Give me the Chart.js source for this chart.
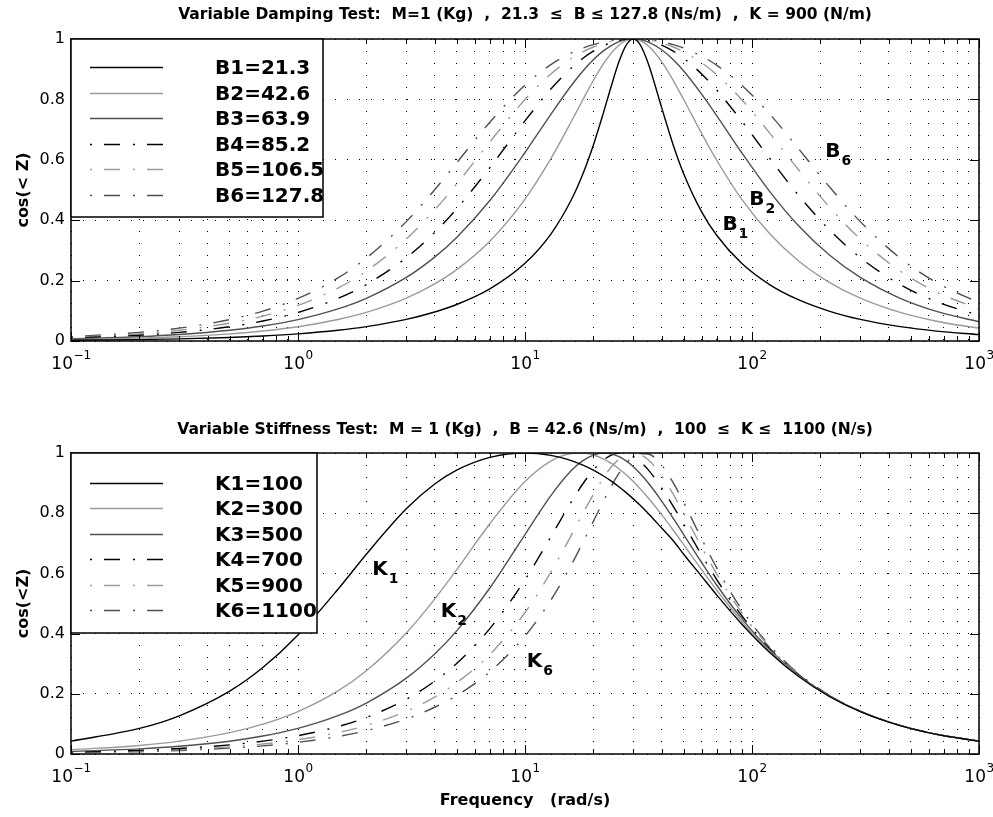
<!DOCTYPE html>
<html>
<head>
<meta charset="utf-8">
<script src="https://cdn.jsdelivr.net/npm/chart.js@4.4.0/dist/chart.umd.min.js"></script>
<style>
  html, body { margin: 0; padding: 0; background: #fff; }
  #wrap { position: relative; width: 993px; height: 817px; }
  canvas { position: absolute; left: 0; }
  #top { top: 0; }
  #bot { top: 400px; }
</style>
</head>
<body>
<div id="wrap">
  <canvas id="top" width="993" height="400"></canvas>
  <canvas id="bot" width="993" height="417"></canvas>
</div>
<script>
const freq = [0.1, 0.2, 0.3, 0.5, 0.7, 1, 1.5, 2, 3, 4, 5, 7, 10, 13, 16, 18, 20, 22, 24, 26, 28,
              30, 32, 35, 40, 45, 50, 60, 70, 90, 120, 160, 220, 300, 450, 650, 1000];

// top plot: variable damping
const dampLabels = ['B1=21.3', 'B2=42.6', 'B3=63.9', 'B4=85.2', 'B5=106.5', 'B6=127.8'];
const b1 = [0.0024, 0.0047, 0.0071, 0.0118, 0.0166, 0.0237, 0.0356, 0.0475, 0.0715, 0.0960, 0.1208, 0.1726, 0.2573, 0.3542, 0.4678, 0.5541, 0.6485, 0.7478, 0.8446, 0.9270, 0.9816,
            1, 0.9839, 0.9166, 0.7727, 0.6485, 0.5541, 0.4278, 0.3493, 0.2573, 0.1860, 0.1367, 0.0982, 0.0715, 0.0475, 0.0328, 0.0213];
const b2 = [0.0047, 0.0095, 0.0142, 0.0237, 0.0331, 0.0473, 0.0710, 0.0947, 0.1420, 0.1893, 0.2365, 0.3306, 0.4700, 0.6039, 0.7269, 0.7996, 0.8625, 0.9140, 0.9533, 0.9801, 0.9953,
            1, 0.9959, 0.9770, 0.9250, 0.8625, 0.7996, 0.6875, 0.5977, 0.4700, 0.3541, 0.2660, 0.1936, 0.1420, 0.0947, 0.0655, 0.0426];
const b3 = [0.0071, 0.0142, 0.0213, 0.0355, 0.0496, 0.0709, 0.1062, 0.1412, 0.2104, 0.2777, 0.3430, 0.4652, 0.6241, 0.7507, 0.8461, 0.8942, 0.9313, 0.9589, 0.9784, 0.9910, 0.9979,
            1, 0.9982, 0.9896, 0.9645, 0.9313, 0.8942, 0.8176, 0.7454, 0.6241, 0.4939, 0.3824, 0.2838, 0.2104, 0.1412, 0.0980, 0.0638];
const b4 = [0.0095, 0.0189, 0.0284, 0.0473, 0.0662, 0.0944, 0.1410, 0.1869, 0.2758, 0.3597, 0.4378, 0.5738, 0.7290, 0.8346, 0.9042, 0.9362, 0.9596, 0.9763, 0.9877, 0.9949, 0.9988,
            1, 0.9990, 0.9941, 0.9796, 0.9596, 0.9362, 0.8842, 0.8305, 0.7290, 0.6037, 0.4831, 0.3671, 0.2758, 0.1869, 0.1302, 0.0850];
const b5 = [0.0118, 0.0237, 0.0355, 0.0591, 0.0826, 0.1177, 0.1752, 0.2313, 0.3376, 0.4341, 0.5199, 0.6589, 0.7996, 0.8843, 0.9354, 0.9577, 0.9735, 0.9846, 0.9921, 0.9967, 0.9992,
            1, 0.9993, 0.9962, 0.9868, 0.9735, 0.9577, 0.9212, 0.8812, 0.7996, 0.6875, 0.5678, 0.4424, 0.3376, 0.2313, 0.1620, 0.1060];
const b6 = [0.0142, 0.0284, 0.0426, 0.0708, 0.0990, 0.1408, 0.2088, 0.2744, 0.3953, 0.5006, 0.5898, 0.7245, 0.8476, 0.9153, 0.9538, 0.9701, 0.9814, 0.9892, 0.9945, 0.9977, 0.9995,
            1, 0.9995, 0.9974, 0.9908, 0.9814, 0.9701, 0.9432, 0.9129, 0.8476, 0.7506, 0.6376, 0.5094, 0.3953, 0.2744, 0.1933, 0.1269];

// bottom plot: variable stiffness
const stiffLabels = ['K1=100', 'K2=300', 'K3=500', 'K4=700', 'K5=900', 'K6=1100'];
const k1 = [0.0426, 0.0849, 0.1269, 0.2088, 0.2871, 0.3953, 0.5472, 0.6638, 0.8146, 0.8969, 0.9432, 0.9857, 1, 0.9923, 0.9748, 0.9599, 0.9432, 0.9253, 0.9066, 0.8872, 0.8675,
            0.8476, 0.8278, 0.7983, 0.7506, 0.7086, 0.6638, 0.5903, 0.5277, 0.4322, 0.3366, 0.2582, 0.1905, 0.1408, 0.0943, 0.0654, 0.0426];
const k2 = [0.0142, 0.0284, 0.0426, 0.0709, 0.0991, 0.1411, 0.2098, 0.2766, 0.4021, 0.5145, 0.6123, 0.7651, 0.9052, 0.9732, 0.9979, 0.9995, 0.9932, 0.9813, 0.9654, 0.9469, 0.9266,
            0.9052, 0.8832, 0.8498, 0.7951, 0.7434, 0.6956, 0.6123, 0.5440, 0.4411, 0.3408, 0.2601, 0.1912, 0.1411, 0.0944, 0.0654, 0.0426];
const k3 = [0.0085, 0.0170, 0.0256, 0.0425, 0.0596, 0.0851, 0.1273, 0.1693, 0.2519, 0.3321, 0.4092, 0.5515, 0.7290, 0.8584, 0.9415, 0.9747, 0.9932, 0.9999, 0.9973, 0.9876, 0.9728,
            0.9544, 0.9334, 0.8993, 0.8402, 0.7826, 0.7290, 0.6362, 0.5607, 0.4504, 0.3452, 0.2621, 0.1920, 0.1414, 0.0945, 0.0655, 0.0426];
const k4 = [0.0061, 0.0122, 0.0183, 0.0304, 0.0426, 0.0608, 0.0912, 0.1215, 0.1819, 0.2417, 0.3009, 0.4165, 0.5789, 0.7218, 0.8379, 0.8979, 0.9432, 0.9745, 0.9927, 0.9998, 0.9975,
            0.9880, 0.9729, 0.9432, 0.8842, 0.8226, 0.7638, 0.6612, 0.5789, 0.4600, 0.3496, 0.2640, 0.1928, 0.1417, 0.0946, 0.0655, 0.0426];
const k5 = [0.0047, 0.0095, 0.0142, 0.0237, 0.0331, 0.0473, 0.0710, 0.0947, 0.1420, 0.1893, 0.2365, 0.3306, 0.4700, 0.6039, 0.7269, 0.7996, 0.8625, 0.9140, 0.9533, 0.9801, 0.9953,
            1, 0.9959, 0.9770, 0.9250, 0.8625, 0.7996, 0.6875, 0.5977, 0.4700, 0.3541, 0.2660, 0.1936, 0.1420, 0.0947, 0.0655, 0.0426];
const k6 = [0.0039, 0.0077, 0.0116, 0.0194, 0.0271, 0.0388, 0.0581, 0.0775, 0.1163, 0.1553, 0.1944, 0.2730, 0.3919, 0.5112, 0.6283, 0.7029, 0.7727, 0.8357, 0.8899, 0.9339, 0.9667,
            0.9880, 0.9985, 0.9965, 0.9596, 0.9006, 0.8357, 0.7149, 0.6174, 0.4804, 0.3588, 0.2680, 0.1944, 0.1423, 0.0948, 0.0656, 0.0426];

// axes
const yTicks = [0, 0.2, 0.4, 0.6, 0.8, 1];
const xDecades = [0.1, 1, 10, 100, 1000];
const xExponents = ['\u22121', '0', '1', '2', '3'];

// curve labels in the plots: letter, subscript, frequency, value
const dampNotes = [['B', '1', 80, 0.384], ['B', '2', 105, 0.467], ['B', '6', 227, 0.626]];
const stiffNotes = [['K', '1', 2.3, 0.611], ['K', '2', 4.6, 0.472], ['K', '6', 11, 0.306]];

// styles
const FONT = '"DejaVu Sans", sans-serif';
const lineColors = ['#000000', '#9a9a9a', '#505050', '#000000', '#9a9a9a', '#505050'];
const dashDot = [2, 12, 16, 13];
const lineDashes = [[], [], [], dashDot, dashDot, dashDot];

// grid at every 1..9 x decade, like a matlab log axis
const xGrid = [];
xDecades.slice(0, -1).forEach(d => {
    for (let m = 1; m < 10; m++) xGrid.push(+(d * m).toPrecision(3));
});
xGrid.push(1000);

// frame, inner ticks, 10^n labels, boxed legend and curve labels
const matlabAxes = {
    id: 'matlabAxes',
    afterDraw(chart, args, opts) {
        const { ctx, chartArea: a, scales: { x, y } } = chart;
        ctx.save();

        // tick marks inside the box
        ctx.strokeStyle = '#000';
        ctx.lineWidth = 1;
        ctx.beginPath();
        xGrid.forEach(v => {
            const px = Math.round(x.getPixelForValue(v)) + 0.5;
            const len = xDecades.includes(v) ? 9 : 5;
            ctx.moveTo(px, a.bottom); ctx.lineTo(px, a.bottom - len);
            ctx.moveTo(px, a.top); ctx.lineTo(px, a.top + len);
        });
        yTicks.forEach(v => {
            const py = Math.round(y.getPixelForValue(v)) + 0.5;
            ctx.moveTo(a.left, py); ctx.lineTo(a.left + 9, py);
            ctx.moveTo(a.right, py); ctx.lineTo(a.right - 9, py);
        });
        ctx.stroke();

        ctx.lineWidth = 1.5;
        ctx.strokeRect(a.left, a.top, a.right - a.left, a.bottom - a.top);

        // 10^n tick labels
        ctx.fillStyle = '#000';
        ctx.textBaseline = 'middle';
        ctx.textAlign = 'left';
        xDecades.forEach((v, i) => {
            const px = x.getPixelForValue(v);
            ctx.font = '17px ' + FONT;
            const w10 = ctx.measureText('10').width;
            ctx.font = '12px ' + FONT;
            const wExp = ctx.measureText(xExponents[i]).width;
            const start = px - (w10 + wExp) / 2;
            ctx.font = '17px ' + FONT;
            ctx.fillText('10', start, a.bottom + 24);
            ctx.font = '12px ' + FONT;
            ctx.fillText(xExponents[i], start + w10 + 0.5, a.bottom + 15);
        });

        // legend box
        const lg = opts.legend;
        ctx.fillStyle = '#fff';
        ctx.fillRect(a.left, a.top, lg.w, lg.h);
        ctx.lineWidth = 1.5;
        ctx.strokeStyle = '#000';
        ctx.strokeRect(a.left, a.top, lg.w, lg.h);
        chart.data.datasets.forEach((ds, i) => {
            const yy = Math.round(a.top + lg.rowTop + i * lg.rowGap) + 0.5;
            ctx.strokeStyle = ds.borderColor;
            ctx.lineWidth = ds.borderWidth;
            ctx.setLineDash(ds.borderDash);
            ctx.beginPath();
            ctx.moveTo(a.left + 19, yy);
            ctx.lineTo(a.left + 92, yy);
            ctx.stroke();
            ctx.setLineDash([]);
            ctx.fillStyle = '#000';
            ctx.font = 'bold 20px ' + FONT;
            ctx.fillText(ds.label, a.left + 144, yy + 1);
        });

        // B1, K2 ... labels next to the curves
        opts.notes.forEach(([letter, sub, fx, fy]) => {
            const px = x.getPixelForValue(fx);
            const py = y.getPixelForValue(fy);
            ctx.font = 'bold 20px ' + FONT;
            const w = ctx.measureText(letter).width;
            ctx.fillText(letter, px - w / 2, py);
            ctx.font = 'bold 14px ' + FONT;
            ctx.fillText(sub, px + w / 2 + 1, py + 9);
        });

        ctx.restore();
    }
};

function buildChart(canvasId, cfg) {
    const datasets = cfg.series.map((vals, i) => ({
        label: cfg.labels[i],
        data: vals.map((v, j) => ({ x: freq[j], y: v })),
        borderColor: lineColors[i],
        borderDash: lineDashes[i],
        borderWidth: 1.4,
        pointRadius: 0,
        cubicInterpolationMode: 'monotone',
        fill: false
    }));

    const gridStyle = { color: '#000', lineWidth: 1, drawTicks: false };
    const borderStyle = { display: false, dash: [1, 11] };

    return new Chart(document.getElementById(canvasId), {
        type: 'line',
        data: { datasets },
        options: {
            responsive: false,
            animation: false,
            layout: { padding: { left: 0, right: 14, top: 0, bottom: 0 } },
            plugins: {
                legend: { display: false },
                tooltip: { enabled: false },
                title: {
                    display: true,
                    text: cfg.title,
                    fullSize: false,
                    color: '#000',
                    font: { family: FONT, size: 15.5, weight: 'bold' },
                    padding: cfg.titlePad
                },
                matlabAxes: { legend: cfg.legendBox, notes: cfg.notes }
            },
            scales: {
                x: {
                    type: 'logarithmic',
                    min: 0.1,
                    max: 1000,
                    afterBuildTicks: s => { s.ticks = xGrid.map(v => ({ value: v })); },
                    afterFit: s => { s.height = cfg.xHeight; },
                    ticks: { display: false },
                    grid: gridStyle,
                    border: borderStyle,
                    title: {
                        display: !!cfg.xTitle,
                        text: cfg.xTitle || '',
                        color: '#000',
                        font: { family: FONT, size: 16, weight: 'bold' },
                        padding: { top: 0, bottom: 7 }
                    }
                },
                y: {
                    min: 0,
                    max: 1,
                    afterBuildTicks: s => { s.ticks = yTicks.map(v => ({ value: v })); },
                    afterFit: s => { s.width = 71; },
                    ticks: {
                        color: '#000',
                        font: { family: FONT, size: 16 },
                        padding: 6,
                        callback: v => String(+v.toFixed(1))
                    },
                    grid: gridStyle,
                    border: borderStyle,
                    title: {
                        display: true,
                        text: cfg.yTitle,
                        color: '#000',
                        font: { family: FONT, size: 16, weight: 'bold' },
                        padding: { top: 14, bottom: 0 }
                    }
                }
            }
        },
        plugins: [matlabAxes]
    });
}

buildChart('top', {
    title: 'Variable Damping Test:  M=1 (Kg)  ,  21.3  \u2264  B \u2264 127.8 (Ns/m)  ,  K = 900 (N/m)',
    titlePad: { top: 5.7, bottom: 14.7 },
    yTitle: 'cos(< Z)',
    labels: dampLabels,
    series: [b1, b2, b3, b4, b5, b6],
    xHeight: 59,
    legendBox: { w: 252, h: 178, rowTop: 28, rowGap: 25.6 },
    notes: dampNotes
});

buildChart('bot', {
    title: 'Variable Stiffness Test:  M = 1 (Kg)  ,  B = 42.6 (Ns/m)  ,  100  \u2264  K \u2264  1100 (N/s)',
    titlePad: { top: 20.7, bottom: 13.7 },
    yTitle: 'cos(<Z)',
    labels: stiffLabels,
    series: [k1, k2, k3, k4, k5, k6],
    xHeight: 63,
    xTitle: 'Frequency   (rad/s)',
    legendBox: { w: 246, h: 180, rowTop: 30, rowGap: 25.4 },
    notes: stiffNotes
});
</script>
</body>
</html>
